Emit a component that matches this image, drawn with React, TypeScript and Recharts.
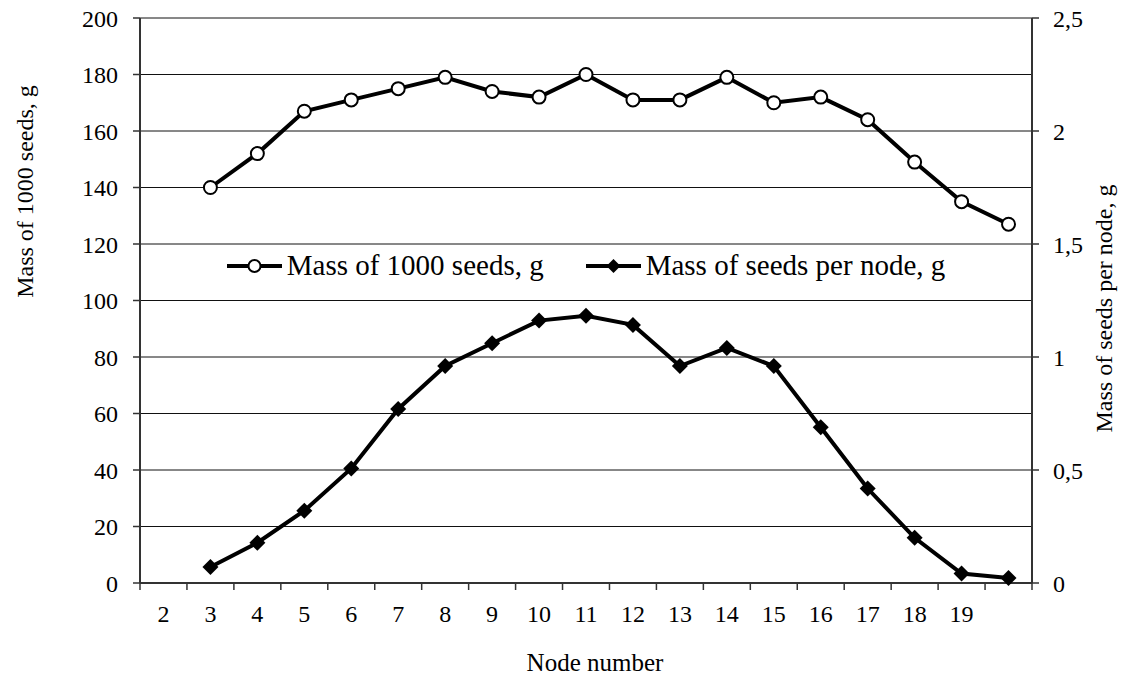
import { LineChart, Line, XAxis, YAxis, CartesianGrid, Legend, Label } from 'recharts';

const NODES = [2, 3, 4, 5, 6, 7, 8, 9, 10, 11, 12, 13, 14, 15, 16, 17, 18, 19, 20];
const NODE_LABELS = ['2', '3', '4', '5', '6', '7', '8', '9', '10', '11', '12', '13', '14', '15', '16', '17', '18', '19', ''];
const MASS_1000_SEEDS = [null, 140, 152, 167, 171, 175, 179, 174, 172, 180, 171, 171, 179, 170, 172, 164, 149, 135, 127];
const MASS_PER_NODE = [null, 0.071, 0.178, 0.32, 0.507, 0.77, 0.96, 1.061, 1.161, 1.182, 1.142, 0.96, 1.04, 0.96, 0.689, 0.418, 0.2, 0.042, 0.022];
const LEFT_TICKS = [0, 20, 40, 60, 80, 100, 120, 140, 160, 180, 200];
const RIGHT_TICKS = [0, 0.5, 1, 1.5, 2, 2.5];

const SERIES_1000 = 'Mass of 1000 seeds, g';
const SERIES_NODE = 'Mass of seeds per node, g';
const LEFT_TITLE = 'Mass of 1000 seeds, g';
const RIGHT_TITLE = 'Mass of seeds per node, g';
const X_TITLE = 'Node number';

const FONT = "'Liberation Serif', 'Times New Roman', serif";
const AXIS = '#333';

const data = NODES.map((node, i) => ({
    node,
    mass1000: MASS_1000_SEEDS[i],
    perNode: MASS_PER_NODE[i],
}));

// Excel-style category axis: tick marks between categories, labels in the middle
const boundaries = [...NODES.map((n) => n - 0.5), NODES[NODES.length - 1] + 0.5];
const xTicks = [...boundaries, ...NODES.filter((_, i) => NODE_LABELS[i] !== '')].sort((a, b) => a - b);

function NodeTick(props: any) {
    const { x, y, payload } = props;
    const v = payload.value;
    if (!Number.isInteger(v)) {
        return <line x1={x} x2={x} y1={y} y2={y + 7} stroke={AXIS} strokeWidth={1.5} />;
    }
    return (
        <text x={x} y={y + 39} textAnchor="middle" fontSize={24} fontFamily={FONT} fill="#000">
            {NODE_LABELS[NODES.indexOf(v)]}
        </text>
    );
}

const circleDot = (p: any) => {
    if (p.value == null || p.cy == null) return <g key={`c-${p.index}`} />;
    return <circle key={`c-${p.index}`} cx={p.cx} cy={p.cy} r={6.5} fill="#fff" stroke="#000" strokeWidth={2} />;
};

const diamondDot = (p: any) => {
    if (p.value == null || p.cy == null) return <g key={`d-${p.index}`} />;
    const { cx, cy } = p;
    return <path key={`d-${p.index}`} d={`M${cx},${cy - 8}L${cx + 8},${cy}L${cx},${cy + 8}L${cx - 8},${cy}Z`} fill="#000" />;
};

function LegendIcon({ kind }: { kind: string }) {
    return (
        <svg width={55} height={20} style={{ display: 'block' }}>
            <line x1={0} x2={55} y1={10} y2={10} stroke="#000" strokeWidth={4} />
            {kind === 'mass1000' ? (
                <circle cx={27.5} cy={10} r={6} fill="#fff" stroke="#000" strokeWidth={2} />
            ) : (
                <path d="M27.5,3L34.5,10L27.5,17L20.5,10Z" fill="#000" />
            )}
        </svg>
    );
}

function renderLegend(props: any) {
    const items = props.payload || [];
    return (
        <div style={{ display: 'flex', justifyContent: 'center', alignItems: 'center', gap: 42, fontFamily: FONT, fontSize: 29, lineHeight: '33px', color: '#000' }}>
            {items.map((it: any) => (
                <div key={it.value} style={{ display: 'flex', alignItems: 'center', gap: 5 }}>
                    <LegendIcon kind={String(it.dataKey)} />
                    <span style={{ whiteSpace: 'nowrap' }}>{it.value}</span>
                </div>
            ))}
        </div>
    );
}

export default function App() {
    return (
        <div style={{ width: 1122, height: 678, background: '#fff' }}>
            <style>{'body{margin:0}'}</style>
            <LineChart width={1122} height={678} data={data} margin={{ top: 18, right: 0, bottom: 0, left: 0 }} style={{ fontFamily: FONT }}>
                <CartesianGrid yAxisId="left" vertical={false} stroke="#111" strokeWidth={1} />
                <XAxis
                    dataKey="node"
                    type="number"
                    domain={[boundaries[0], boundaries[boundaries.length - 1]]}
                    ticks={xTicks}
                    interval={0}
                    tick={NodeTick}
                    tickLine={false}
                    tickSize={0}
                    tickMargin={0}
                    height={95}
                    axisLine={{ stroke: AXIS, strokeWidth: 2 }}
                >
                    <Label
                        content={(p: any) => (
                            <text x={p.viewBox.x + p.viewBox.width / 2 + 9} y={p.viewBox.y + 88} textAnchor="middle" fontSize={25} fontFamily={FONT} fill="#000">
                                {X_TITLE}
                            </text>
                        )}
                    />
                </XAxis>
                <YAxis
                    yAxisId="left"
                    domain={[0, 200]}
                    ticks={LEFT_TICKS}
                    interval={0}
                    width={140}
                    tickSize={7}
                    tickMargin={15}
                    tick={{ fill: '#000', fontSize: 24, fontFamily: FONT }}
                    tickLine={{ stroke: AXIS, strokeWidth: 1.5 }}
                    axisLine={{ stroke: AXIS, strokeWidth: 2 }}
                >
                    <Label
                        content={(p: any) => {
                            const x = p.viewBox.x + 33;
                            const y = p.viewBox.y + p.viewBox.height / 2 - 109;
                            return (
                                <text transform={`rotate(-90 ${x} ${y})`} x={x} y={y} textAnchor="middle" fontSize={24} fontFamily={FONT} fill="#000">
                                    {LEFT_TITLE}
                                </text>
                            );
                        }}
                    />
                </YAxis>
                <YAxis
                    yAxisId="right"
                    orientation="right"
                    domain={[0, 2.5]}
                    ticks={RIGHT_TICKS}
                    interval={0}
                    width={90}
                    tickSize={7}
                    tickMargin={14}
                    tickFormatter={(v: number) => String(v).replace('.', ',')}
                    tick={{ fill: '#000', fontSize: 24, fontFamily: FONT }}
                    tickLine={{ stroke: AXIS, strokeWidth: 1.5 }}
                    axisLine={{ stroke: AXIS, strokeWidth: 2 }}
                >
                    <Label
                        content={(p: any) => {
                            const x = p.viewBox.x + 80;
                            const y = p.viewBox.y + p.viewBox.height / 2 + 8;
                            return (
                                <text transform={`rotate(-90 ${x} ${y})`} x={x} y={y} textAnchor="middle" fontSize={24} fontFamily={FONT} fill="#000">
                                    {RIGHT_TITLE}
                                </text>
                            );
                        }}
                    />
                </YAxis>
                <Legend
                    layout="horizontal"
                    verticalAlign="middle"
                    align="center"
                    content={renderLegend}
                    wrapperStyle={{ top: 249, left: 140, width: 892 }}
                />
                <Line
                    yAxisId="left"
                    dataKey="mass1000"
                    name={SERIES_1000}
                    stroke="#000"
                    strokeWidth={4}
                    dot={circleDot}
                    activeDot={false}
                    isAnimationActive={false}
                />
                <Line
                    yAxisId="right"
                    dataKey="perNode"
                    name={SERIES_NODE}
                    stroke="#000"
                    strokeWidth={4}
                    dot={diamondDot}
                    activeDot={false}
                    isAnimationActive={false}
                />
            </LineChart>
        </div>
    );
}
